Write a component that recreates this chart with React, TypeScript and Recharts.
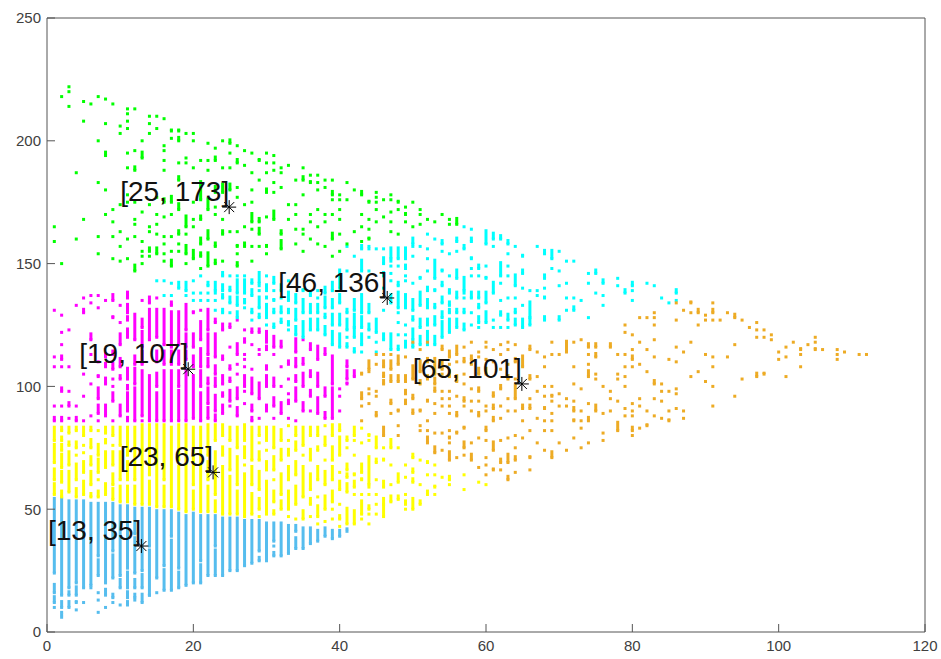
import React from "react";
import { ErrorBar, Scatter, ScatterChart, XAxis, YAxis } from "recharts";

// one entry per x column: [x, then y values or [low, high] vertical runs]
type Column = (number | number[])[];

const xTicks = [0, 20, 40, 60, 80, 100, 120];
const yTicks = [0, 50, 100, 150, 200, 250];

const blueColumns: Column[] = [
  [1, [24, 55], [16, 20], [12, 15], 10],
  [2, [15, 55], [10, 13], 8, 7, 6],
  [3, [18, 54], [15, 17], [10, 13]],
  [4, [20, 54], [15, 19], [12, 13], 9],
  [5, [18, 54], 12],
  [6, [19, 53], 18],
  [7, [31, 53], [23, 30], 16, 13, 8],
  [8, [20, 53], [15, 18], 10],
  [9, [33, 53], [22, 32], [14, 16], 12],
  [10, [23, 52], [18, 22], 11],
  [11, [26, 52], [18, 25], [14, 17], [11, 13]],
  [12, [40, 51], [24, 39], [18, 22], [14, 16], 13],
  [13, [25, 51], [18, 24], [12, 16]],
  [14, [35, 51], [15, 34], 15],
  [15, [22, 50], 16],
  [16, [27, 50], [17, 26]],
  [17, [39, 50], [17, 38]],
  [18, [26, 49], [18, 25]],
  [19, [19, 48]],
  [20, [20, 49]],
  [21, [29, 48], [20, 28]],
  [22, [23, 48]],
  [23, [35, 48], [23, 34]],
  [24, [23, 47]],
  [25, [25, 47]],
  [26, [25, 47]],
  [27, [27, 46]],
  [28, [28, 46]],
  [29, [33, 46], [29, 31]],
  [30, [29, 45]],
  [31, [37, 45], 35, [31, 33]],
  [32, [31, 45]],
  [33, [32, 44]],
  [34, [41, 44], [34, 39]],
  [35, [34, 43]],
  [36, [36, 43]],
  [37, [37, 42]],
  [38, [39, 43]],
  [39, [38, 42]],
  [40, [39, 42]],
  [41, 42, 41],
];

const yellowColumns: Column[] = [
  [1, [78, 84], [69, 77], [62, 67], [56, 61]],
  [2, [82, 84], [78, 80], [74, 77], [67, 73], [61, 66], [55, 58]],
  [3, [81, 84], [76, 78], [68, 74], [57, 66]],
  [4, [82, 84], [75, 78], 72, [62, 69], [55, 59]],
  [5, [80, 84], 76, 73, [65, 70], [56, 62]],
  [6, [82, 84], [75, 79], [68, 72], [60, 66], [55, 57]],
  [7, 82, [72, 77], [65, 71], 62, [55, 58]],
  [8, [81, 84], [77, 79], [67, 74], [56, 61]],
  [9, [80, 84], 76, [68, 74], [60, 65], [54, 59]],
  [10, [76, 84], [62, 74], [53, 60]],
  [11, [72, 84], [62, 70], [53, 60]],
  [12, [62, 84], [52, 60]],
  [13, [52, 85]],
  [14, [64, 85], [52, 62]],
  [15, [51, 85]],
  [16, [62, 85], [51, 60]],
  [17, [51, 84]],
  [18, [70, 85], [50, 68]],
  [19, [49, 85]],
  [20, [60, 84], [50, 58]],
  [21, [49, 84]],
  [22, [72, 85], [62, 70], [49, 60]],
  [23, [78, 85], [56, 74], [49, 54]],
  [24, [80, 85], [72, 76], [48, 68]],
  [25, [78, 84], [66, 75], [48, 64]],
  [26, [75, 84], [60, 72], [48, 58]],
  [27, [78, 85], [71, 76], 68, [47, 65]],
  [28, [70, 84], [60, 68], [48, 57]],
  [29, [80, 84], 77, [70, 74], [58, 66], [50, 55], 47],
  [30, [78, 84], 74, [66, 70], [48, 62]],
  [31, [75, 84], [66, 72], 62, [53, 58], [48, 50]],
  [32, [78, 83], [70, 75], [56, 65], [50, 54]],
  [33, 84, 78, [72, 75], [62, 68], [50, 58], 47],
  [34, [80, 84], [74, 78], [64, 70], [52, 60], 46],
  [35, [76, 84], 72, [55, 68], [46, 50]],
  [36, [80, 84], [70, 75], [58, 65], [52, 55], 47],
  [37, [80, 84], [74, 76], [62, 68], 55, [47, 52], 44],
  [38, 84, [76, 80], 70, [60, 66], [50, 56], 45],
  [39, [80, 85], [70, 76], [62, 68], [53, 58], 50, 46],
  [40, [82, 85], [72, 80], 65, [58, 62], 52, [46, 48], 43],
  [41, [78, 80], 75, [66, 69], [63, 65], [57, 61], [44, 51]],
  [42, [80, 84], 78, 72, [64, 65], [59, 62], 56, [44, 50]],
  [43, 83, 77, [65, 69], [62, 63], 56, [48, 54], 46],
  [44, [80, 81], 78, [60, 72], 59, 56, [50, 52], 48, 44],
  [45, [75, 80], [69, 71], 62, 56, 52, 48],
  [46, 75, [70, 71], [59, 62], [52, 55], [47, 52]],
  [47, [75, 79], 68, 60, [53, 56]],
  [48, 75, [61, 65], [54, 56]],
  [49, 68, 63, 56, [52, 54], 50],
  [50, [71, 73], [65, 67], [61, 63], [50, 55]],
  [51, 70, 60, [52, 54]],
  [52, [69, 70], 64, [56, 58]],
  [53, 68, 64, [59, 60], 56],
  [54, 63],
  [55, [62, 64], 60],
  [57, 64, 58],
  [59, 61],
  [60, 60],
];

const magentaColumns: Column[] = [
  [1, 131, 112, 108, 92, [86, 88]],
  [2, 129, 122, 117, [111, 113], 108, [98, 100], 92, [86, 88]],
  [3, 123, 108, 98, [92, 94], 87],
  [4, 133, 92, [86, 88]],
  [5, 136, [130, 132], 105, 96, 86],
  [6, 137, 134, [119, 122], 113, 101, 88],
  [7, 137, 132, 110, [104, 105], [95, 100], [89, 93], 86],
  [8, 135, [112, 114], [108, 110], [101, 104], [88, 93]],
  [9, [135, 138], [128, 129], [113, 115], [107, 110], 103, 100, [94, 98], 86],
  [10, 133, 126, [117, 122], [108, 112], [103, 105], [88, 93]],
  [11, [136, 139], [130, 134], [127, 129], [120, 124], [103, 108], [99, 101], [90, 98], [86, 88]],
  [12, [119, 130], [109, 113], [101, 108], [86, 100]],
  [13, 135, [124, 128], [116, 123], [109, 115], [88, 107], 86],
  [14, [134, 137], [119, 132], [86, 105]],
  [15, 136, [120, 132], [110, 115], [100, 106], [86, 98]],
  [16, [117, 132], [109, 115], [86, 107]],
  [17, [133, 135], [116, 131], [109, 115], [86, 107]],
  [18, [117, 131], [109, 115], [100, 107], [86, 99]],
  [19, [123, 134], [116, 122], [111, 115], [86, 107]],
  [20, [130, 131], [116, 122], [108, 113], [87, 105]],
  [21, 131, [119, 127], [108, 116], [100, 107], [86, 98]],
  [22, [123, 132], [113, 122], [108, 112], [101, 104], [93, 100], [87, 92]],
  [23, [126, 128], [112, 122], [105, 109], [100, 104], [90, 97], [86, 89]],
  [24, [123, 126], [111, 113], [101, 105], [96, 98], [89, 93]],
  [25, [124, 126], 116, [107, 109], [102, 104], [94, 99], 92],
  [26, 127, [113, 118], 109, 105, [95, 100], [88, 92]],
  [27, 123, [118, 120], 113, 111, 108, [100, 105], 98, 93],
  [28, [122, 124], 117, 107, [97, 104], [90, 93], [86, 88]],
  [29, [122, 124], 115, 113, [95, 102], 87],
  [30, [118, 123], [115, 117], [107, 109], [100, 105], [90, 93]],
  [31, [116, 121], 113, [100, 104], [92, 96], 87],
  [32, [116, 119], 108, 100, [89, 94]],
  [33, [109, 111], 103, 97, [93, 95], 87],
  [34, [114, 120], [108, 112], [102, 105], [94, 100], 86],
  [35, 119, [109, 112], [100, 106], [90, 94]],
  [36, [115, 118], [104, 107], [96, 99], 90],
  [37, [111, 117], [100, 106], [89, 96]],
  [38, [113, 116], [96, 100], [87, 90]],
  [39, [101, 113], [87, 100]],
  [40, 99, 96, 90],
  [41, [108, 111], [103, 107], [101, 102]],
  [42, [104, 107]],
];

const cyanColumns: Column[] = [
  [15, 143],
  [16, 143, 137],
  [17, 142, 137],
  [18, [140, 143]],
  [19, [139, 143], 137],
  [20, 143, 138, 135],
  [21, 145, 138, 135],
  [22, [141, 143], 138, 135],
  [23, [139, 143], 138, 135, 131],
  [24, [145, 147], [139, 142], [136, 138], [130, 132]],
  [25, 145, [139, 141], [134, 137], 130],
  [26, 145, [138, 144], [133, 137], [128, 131]],
  [27, 145, [138, 144], [134, 136], 132],
  [28, [142, 144], [137, 140], [130, 132], 127],
  [29, [142, 147], 141, 139, [132, 137], [128, 130]],
  [30, 145, [139, 142], [136, 137], [128, 134], 125],
  [31, [142, 145], 139, [135, 136], [130, 132], [124, 126]],
  [32, [139, 142], 136, [130, 133], [126, 128]],
  [33, 143, [135, 139], [130, 132], [125, 127], 123],
  [34, 145, [134, 138], [127, 132], [121, 125]],
  [35, [139, 140], [130, 136], [120, 127]],
  [36, [137, 139], [130, 134], [123, 128]],
  [37, 139, 136, [130, 134], [123, 128]],
  [38, [138, 141], [132, 137], [128, 130], [121, 125]],
  [39, [139, 143], [132, 136], [125, 130], [117, 123]],
  [40, [140, 148], [134, 138], [125, 130], [116, 122]],
  [41, 157, 147, [130, 132], [123, 128], 120, [116, 118]],
  [42, 153, [131, 136], [124, 130], [120, 124], [114, 116]],
  [43, [156, 158], [147, 152], [130, 138], [124, 129], [117, 122], 114],
  [44, 157, 156, 147, [130, 134], [123, 126], 120],
  [45, 156, [122, 128], 118, 114],
  [46, 156, [150, 153], [145, 147], 140, 131, [119, 122]],
  [47, [152, 157], 151, 149, 146, 143, [134, 138], [115, 122]],
  [48, [152, 157], 149, [141, 143], [132, 139], 130, 126, 121, [115, 117]],
  [49, [152, 157], [148, 150], 145, 143, [132, 138], 125, 121, [116, 119]],
  [50, [158, 161], 157, 153, 142, [131, 136], [127, 129], [119, 124], [116, 118]],
  [51, 157, [144, 145], [133, 139], [124, 128], [117, 121]],
  [52, 162, 156, 152, 147, [139, 141], [132, 136], [125, 128], [117, 123]],
  [53, 160, [144, 152], [139, 140], [132, 134], [125, 129], [117, 121]],
  [54, [158, 160], 155, [147, 148], [141, 143], [134, 137], [128, 131], [120, 127]],
  [55, 154, 145, [138, 140], [133, 135], [130, 132], [122, 128]],
  [56, [159, 161], 155, [144, 148], [136, 139], [130, 132], [124, 128]],
  [57, 165, [156, 158], [139, 145], 138, 136, [130, 132], [123, 126]],
  [58, 164, [159, 161], [152, 153], 148, 145, [136, 139], 130, 125],
  [59, [148, 150], 145, [136, 139], [132, 134], [126, 129], 124],
  [60, [158, 164], 149, [144, 145], [134, 139], [126, 131]],
  [61, [160, 163], 157, [138, 143], 127, 124],
  [62, [160, 162], [145, 151], 142, 135, [129, 131], 124],
  [63, [158, 160], 154, 149, 145, 136, [127, 130], 124],
  [64, 157, [141, 146], 136, [130, 132], [125, 128]],
  [65, [153, 154], [146, 148], 140, 133, [124, 128]],
  [66, 139, [128, 135], [125, 128]],
  [67, 157, 139, 137],
  [68, [154, 156], [144, 146], 140, [136, 137], [127, 129]],
  [69, [152, 156], 148],
  [70, 155, 147, 141, [127, 129]],
  [71, 151, 142, 136, 131],
  [72, 151, 136, [131, 133]],
  [73, 135],
  [74, 146, 142, 128],
  [75, [146, 148], 138],
  [76, [142, 144], 137, 133],
  [78, 144, 141],
  [79, [138, 140]],
  [80, [141, 143], 139, 135],
  [82, 142],
  [83, 141],
  [84, 136],
  [85, 134],
  [86, [138, 140], 135],
];

const greenColumns: Column[] = [
  [1, 165, 159],
  [2, 218, 150],
  [3, 222, 220, 214],
  [4, 187, 160],
  [5, 216, 208, 168],
  [6, 215],
  [7, 218, 200, 183, 161, 154],
  [8, 217, 207, [194, 196], 180, 170],
  [9, 215, 172, 167, 161, 152],
  [10, 206, 203, 174, 163, 157, 151],
  [11, 213, 211, 208, 205, 195, 189, 178, 175, 160, 152],
  [12, 213, 196, [188, 190], 175, 168, 166, 161, [147, 150]],
  [13, 200, [193, 196], 171, 159, 155, 153, 150],
  [14, 210, 207, 203, 174, 165, 163, [155, 157], 153],
  [15, 210, 205, 177, 170, 166, 162, [154, 157]],
  [16, 209, 198, 196, 192, 188, [175, 177], 169, 161, 158, 154, 151],
  [17, [204, 205], 201, [175, 178], 170, 161, 155, [149, 152]],
  [18, [204, 205], [200, 202], 191, [184, 186], [172, 175], [162, 164], 158, 155],
  [19, 203, 193, 191, [165, 170], 162, [154, 158], 150],
  [20, 203, 200, 189, 175, 168, 165, [152, 156]],
  [21, 192, [176, 184], [168, 170], [158, 161], [153, 155], 148],
  [22, 199, 192, 188, [172, 177], [160, 164], [149, 155]],
  [23, 197, [192, 194], [179, 182], 173, 170, [157, 159], [150, 152]],
  [24, 200, 189, [179, 183], 168, [162, 164], 151],
  [25, [199, 201], 195, 189, [180, 183], 163],
  [26, 198, [191, 193], 181, 177, 163, [157, 158], 154, [149, 151]],
  [27, 196, 190, 174, 165, [157, 159]],
  [28, 195, 187, 180, 175, [167, 171], 164, 157, 151],
  [29, [192, 193], 184, [167, 169], [162, 165], 157],
  [30, 195, 191, 187, [179, 181], 169, [157, 158], 154],
  [31, 194, 191, 188, 183, 179, [168, 172]],
  [32, 189, 187, 181, [162, 164], [156, 160]],
  [33, 190, 174, 168],
  [34, 184, 174, 170, 164, 158],
  [35, 189, [184, 186], 178, 164, 162, 155],
  [36, 186, [183, 184], 170, 167, 160],
  [37, 186, 183, 180, 172, 165, 158],
  [38, 184, 181, 170, 167, 157],
  [39, 184, [178, 180], 176, 170, [160, 163], 153],
  [40, 178, 176, 172, 168, 162, 155],
  [41, 183, 176, 158],
  [42, 180, 163],
  [43, [178, 180], 170, 165, 159],
  [44, [175, 176], 168, 164, [160, 161]],
  [45, 179, 177, 175, 172, 167],
  [46, 176, 169],
  [47, 178, 176, 171, 167, 163],
  [48, [175, 176], 172, 162],
  [49, 173, [170, 171], 167],
  [50, 175, 165],
  [51, 172, 170, 166],
  [52, 168],
  [53, 167],
  [54, 170],
  [55, 168, 166],
  [56, [166, 169]],
];

const orangeColumns: Column[] = [
  [43, [105, 106], [95, 98], 92, 86],
  [44, [107, 111], 106, 99, 97, 93],
  [45, 113, 109, 98, 96, [88, 90]],
  [46, 113, [108, 111], [104, 106], [101, 103], [80, 84]],
  [47, 113, [107, 111], [102, 105], [93, 95], 89],
  [48, [109, 113], [102, 105], [90, 91], 84, 80],
  [49, 112, [102, 105], [97, 99], [93, 95]],
  [50, 118, [103, 109], [95, 97], [89, 91]],
  [51, 115, [106, 111], [101, 103], [90, 91], 84, 82],
  [52, 118, [110, 112], [103, 105], [94, 95], 86, 82, [77, 80]],
  [53, [105, 112], [101, 104], [98, 100], 93, 89, 81, [73, 76]],
  [54, [115, 117], [107, 111], 105, 98, 95, 92, 81, 74],
  [55, [112, 115], 109, [104, 107], 98, 95, 92, 89, 82, [79, 80], 77, [70, 74]],
  [56, [113, 117], 110, [102, 105], 96, [88, 90], [81, 82], 71],
  [57, 116, [110, 112], 105, 101, [94, 96], 92, [83, 84], [75, 78], 72],
  [58, 118, [111, 113], 109, 99, 94, 90, 77, [70, 73]],
  [59, 114, 112, [105, 108], [98, 100], 94, [88, 90], 79, 67],
  [60, 118, 116, 111, [105, 108], 92, 90, [82, 84], 78, 71, 68, 64],
  [61, 115, 110, [96, 98], [91, 93], [86, 88], [74, 78], [66, 67]],
  [62, 117, 113, 107, [99, 101], 92, 87, 78, [69, 71], 66],
  [63, 118, 115, 109, [103, 105], 95, 90, 79, [69, 73], [62, 64]],
  [64, 117, [110, 112], 103, [95, 101], 90, 80, 75, [70, 72], 65],
  [65, [108, 113], [91, 93], 86, 79],
  [66, [115, 117], [103, 105], 95, [91, 93], 82, [71, 72], 66],
  [67, 114, 104, 98, 87, 77],
  [68, 112, 108, 100, 96, [91, 92], 86, 82, 74],
  [69, 118, 113, 100, [96, 97], 94, 89, 86, 82, [71, 74]],
  [70, 113, 97, 92, 77],
  [71, [114, 119], 95, 92, 74],
  [72, 118, 108, 101, 94, [90, 92], [86, 87], 79],
  [73, 119, 99, 90, 86, 83, 75],
  [74, [116, 118], 113, 109, [104, 107], 93, [86, 88], 77],
  [75, [116, 118], [112, 114], 105, 103, [90, 93]],
  [76, 100, 89, 81, 78],
  [77, [116, 118], 98, 95, 90],
  [78, 113, 105, 103, 94, [82, 86]],
  [79, 125, 122, 113, 108, 104, 100, 91, 88],
  [80, 121, 115, [111, 113], 108, 93, 90, 88, [82, 84], 80],
  [81, 128, 118, 109, 95, 92, 83],
  [82, 128, 115, 106, 90, [84, 85]],
  [83, 130, 128, 125, 119, 112, [101, 103], 95, 88],
  [84, 101, 98, 94, 87],
  [85, 111, 98, 90, [86, 87]],
  [86, 134, 127, 116, 110, 99, 97, 91],
  [87, 131, 114, 90, 87],
  [88, [134, 135], 130, 118, 104],
  [89, [130, 132], 125, 106],
  [90, 129, 127, 113, 102],
  [91, 134, [130, 132], 127, 112, 108, 100, 92],
  [92, 127],
  [93, 130, 112],
  [94, [128, 130], 117, 96],
  [95, 127, 103],
  [96, 124],
  [97, 126, 123, 120, [104, 106]],
  [98, 123, 120, [105, 106]],
  [99, 121, 119],
  [100, 114, 111],
  [101, 116, 112, 104],
  [102, 118],
  [103, [115, 116], 113, 108],
  [104, 117],
  [105, 120, 118, [115, 116]],
  [106, 115],
  [108, 115, 113, 111],
  [109, 114],
  [111, 113],
  [112, 113],
];

// cluster centres: plotted position (from the stars) and the rounded label text
const centerX = [12.9, 22.7, 19.3, 24.9, 46.5, 64.9];
const centerY = [35, 65, 107, 173, 136, 101];
const centerLabels = ["[13, 35]", "[23, 65]", "[19, 107]", "[25, 173]", "[46, 136]", "[65, 101]"];

const toRows = (columns: Column[]) =>
  columns.flatMap(([x, ...entries]) =>
    entries.map((e) => {
      const [low, high] = Array.isArray(e) ? e : [e, e];
      return { x: x as number, y: low, span: [0, high - low] };
    }),
  );

const centers = centerX.map((x, i) => ({ x, y: centerY[i], label: centerLabels[i] }));

const groups = [
  { key: "blue", color: "#56BDEE", rows: toRows(blueColumns) },
  { key: "yellow", color: "#FFFF00", rows: toRows(yellowColumns) },
  { key: "magenta", color: "#FF00FF", rows: toRows(magentaColumns) },
  { key: "cyan", color: "#00FFFF", rows: toRows(cyanColumns) },
  { key: "green", color: "#00FF00", rows: toRows(greenColumns) },
  { key: "orange", color: "#EDAB24", rows: toRows(orangeColumns) },
];

const AXIS = "#555555";
const tickStyle = { fontSize: 15, fill: "#404040", fontFamily: "Liberation Sans, Arial, sans-serif" };

const Dot = (color: string) => (p: any) => (
  <rect x={p.cx - 1.5} y={p.cy - 1.5} width={3} height={3} fill={color} />
);

function CenterMark(p: any) {
  const { cx, cy, payload } = p;
  const r = 7;
  const d = 5;
  return (
    <g stroke="#000" strokeWidth={1}>
      <line x1={cx - r} y1={cy} x2={cx + r} y2={cy} />
      <line x1={cx} y1={cy - r} x2={cx} y2={cy + r} />
      <line x1={cx - d} y1={cy - d} x2={cx + d} y2={cy + d} />
      <line x1={cx - d} y1={cy + d} x2={cx + d} y2={cy - d} />
      <text
        x={cx}
        y={cy - 6}
        textAnchor="end"
        stroke="none"
        fill="#111"
        fontSize={28}
        fontFamily="Liberation Sans, Arial, sans-serif"
      >
        {payload.label}
      </text>
    </g>
  );
}

export default function App() {
  return (
    <div style={{ position: "absolute", left: 0, top: 0, width: 941, height: 659, background: "#fff" }}>
      <ScatterChart width={941} height={659} margin={{ top: 0, right: 0, bottom: 0, left: 0 }}>
        <XAxis
          xAxisId="bottom"
          type="number"
          dataKey="x"
          domain={[0, 120]}
          ticks={xTicks}
          height={27}
          stroke={AXIS}
          tickSize={-8}
          tickMargin={16}
          tick={tickStyle}
        />
        <XAxis
          xAxisId="top"
          orientation="top"
          type="number"
          dataKey="x"
          domain={[0, 120]}
          ticks={xTicks}
          height={18}
          stroke={AXIS}
          tickSize={-8}
          tickFormatter={() => ""}
        />
        <YAxis
          yAxisId="left"
          type="number"
          dataKey="y"
          domain={[0, 250]}
          ticks={yTicks}
          width={47}
          stroke={AXIS}
          tickSize={-8}
          tickMargin={14}
          tick={tickStyle}
        />
        <YAxis
          yAxisId="right"
          orientation="right"
          type="number"
          dataKey="y"
          domain={[0, 250]}
          ticks={yTicks}
          width={16}
          stroke={AXIS}
          tickSize={-8}
          tickFormatter={() => ""}
        />
        {groups.map((g) => (
          <Scatter
            key={g.key}
            xAxisId="bottom"
            yAxisId="left"
            data={g.rows}
            shape={Dot(g.color)}
            isAnimationActive={false}
          >
            <ErrorBar
              dataKey="span"
              direction="y"
              width={0}
              stroke={g.color}
              strokeWidth={3}
              isAnimationActive={false}
            />
          </Scatter>
        ))}
        <Scatter
          xAxisId="bottom"
          yAxisId="left"
          data={centers}
          shape={CenterMark}
          isAnimationActive={false}
        />
      </ScatterChart>
    </div>
  );
}
